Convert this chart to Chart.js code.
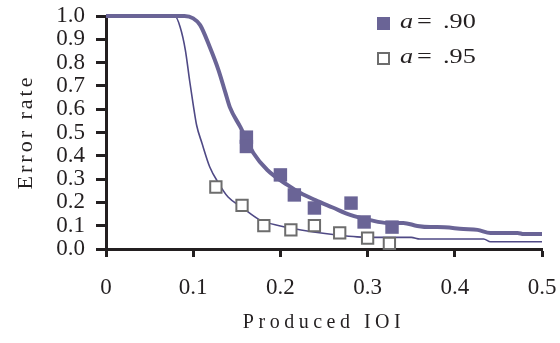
<!DOCTYPE html>
<html>
<head>
<meta charset="utf-8">
<script src="https://cdn.jsdelivr.net/npm/chart.js@4"></script>
<style>
  html, body { margin: 0; padding: 0; background: #fff; }
  #wrap { width: 560px; height: 343px; }
</style>
</head>
<body>
<div id="wrap"><canvas id="c" width="560" height="343"></canvas></div>
<script>
// model curves
const fitX90 = [0, 0.090, 0.100, 0.108, 0.119, 0.129, 0.137, 0.142, 0.154, 0.169, 0.185, 0.208, 0.223, 0.240, 0.260, 0.280, 0.303, 0.323, 0.341, 0.357, 0.372, 0.380, 0.410, 0.426, 0.441, 0.472, 0.479, 0.500];
const fitY90 = [1.0, 1.0, 0.99, 0.961, 0.867, 0.768, 0.67, 0.609, 0.524, 0.412, 0.339, 0.275, 0.24, 0.21, 0.178, 0.146, 0.124, 0.112, 0.112, 0.099, 0.094, 0.094, 0.086, 0.082, 0.069, 0.069, 0.064, 0.064];

const fitX95 = [0, 0.079, 0.085, 0.091, 0.096, 0.100, 0.104, 0.110, 0.119, 0.129, 0.140, 0.157, 0.177, 0.200, 0.211, 0.238, 0.265, 0.288, 0.315, 0.350, 0.360, 0.433, 0.441, 0.500];
const fitY95 = [1.0, 1.0, 0.953, 0.854, 0.72, 0.62, 0.53, 0.455, 0.352, 0.283, 0.223, 0.176, 0.124, 0.099, 0.09, 0.073, 0.06, 0.052, 0.05, 0.05, 0.043, 0.043, 0.031, 0.031];

// observed error rates
const obsX90 = [0.161, 0.161, 0.200, 0.216, 0.239, 0.281, 0.296, 0.328];
const obsY90 = [0.48, 0.44, 0.318, 0.232, 0.176, 0.197, 0.116, 0.094];

const obsX95 = [0.126, 0.156, 0.181, 0.212, 0.239, 0.268, 0.300, 0.325];
const obsY95 = [0.266, 0.187, 0.10, 0.082, 0.10, 0.069, 0.047, 0.024];

const xTicks = [0, 0.1, 0.2, 0.3, 0.4, 0.5];

const purple = '#6a6496';
const darkLine = '#4f4985';
const serif = '"Liberation Serif", "Times New Roman", Tinos, serif';

function pts(xs, ys){
  return xs.map((x, i) => ({x: x, y: ys[i]}));
}

// titles + legend drawn by hand (italic "a" etc.)
const extras = {
  id: 'extras',
  afterDraw(chart){
    const ctx = chart.ctx;
    ctx.save();
    ctx.fillStyle = '#231f20';
    ctx.textAlign = 'center';
    ctx.textBaseline = 'middle';

    ctx.font = '20px ' + serif;
    ctx.letterSpacing = '4.5px';
    ctx.fillText('Produced IOI', 324, 323);

    ctx.translate(26, 133);
    ctx.rotate(-Math.PI / 2);
    ctx.font = '22px ' + serif;
    ctx.letterSpacing = '3px';
    ctx.fillText('Error rate', 1, 0);
    ctx.restore();

    ctx.save();
    ctx.fillStyle = purple;
    ctx.fillRect(377, 17, 13, 13);
    ctx.fillStyle = '#fff';
    ctx.fillRect(378, 53, 11, 11);
    ctx.strokeStyle = '#6d6d6d';
    ctx.lineWidth = 2;
    ctx.strokeRect(378, 53, 11, 11);

    ctx.fillStyle = '#231f20';
    ctx.textAlign = 'left';
    ctx.textBaseline = 'alphabetic';
    const rows = [['.90', 28], ['.95', 63]];
    rows.forEach(r => {
      ctx.save();
      ctx.translate(0, r[1]);
      ctx.scale(1.25, 1);
      ctx.font = 'italic 21px ' + serif;
      ctx.fillText('a', 400 / 1.25, 0);
      ctx.font = '21px ' + serif;
      ctx.fillText('=', 417 / 1.25, 0);
      ctx.fillText(r[0], 443 / 1.25, 0);
      ctx.restore();
    });
    ctx.restore();
  }
};

new Chart(document.getElementById('c'), {
  type: 'scatter',
  data: {
    datasets: [
      {
        label: 'a = .90',
        data: pts(obsX90, obsY90),
        pointStyle: 'rect',
        pointRadius: 9.5,
        backgroundColor: purple,
        borderColor: purple,
        borderWidth: 0,
        order: 0,
        clip: false
      },
      {
        label: 'a = .95',
        data: pts(obsX95, obsY95),
        pointStyle: 'rect',
        pointRadius: 8,
        backgroundColor: '#fff',
        borderColor: '#6d6d6d',
        borderWidth: 2,
        order: 0,
        clip: false
      },
      {
        label: 'fit .90',
        type: 'line',
        data: pts(fitX90, fitY90),
        borderColor: purple,
        borderWidth: 4,
        pointRadius: 0,
        cubicInterpolationMode: 'monotone',
        fill: false,
        order: 1,
        clip: false
      },
      {
        label: 'fit .95',
        type: 'line',
        data: pts(fitX95, fitY95),
        borderColor: darkLine,
        borderWidth: 1.6,
        pointRadius: 0,
        cubicInterpolationMode: 'monotone',
        fill: false,
        order: 1,
        clip: false
      }
    ]
  },
  options: {
    responsive: false,
    animation: false,
    layout: { padding: { left: 0, right: 18, top: 16, bottom: 0 } },
    plugins: { legend: { display: false }, tooltip: { enabled: false } },
    scales: {
      x: {
        type: 'linear',
        min: 0, max: 0.5,
        afterFit(s){ s.height = 94; s.paddingLeft = 0; s.paddingRight = 0; },
        afterBuildTicks(s){ s.ticks = xTicks.map(v => ({value: v})); },
        ticks: {
          padding: 17,
          autoSkip: false,
          maxRotation: 0,
          color: '#231f20',
          font: { family: serif, size: 23 },
          callback: v => v === 0 ? '0' : v.toFixed(1)
        },
        grid: { drawOnChartArea: false, tickLength: 8, tickWidth: 3, tickColor: '#231f20' },
        border: { color: '#231f20', width: 3 }
      },
      y: {
        min: 0, max: 1,
        afterFit(s){ s.width = 106; s.paddingTop = 0; s.paddingBottom = 0; },
        ticks: {
          stepSize: 0.1,
          autoSkip: false,
          padding: 11,
          color: '#231f20',
          font: { family: serif, size: 23 },
          callback: v => v.toFixed(1)
        },
        grid: { drawOnChartArea: false, tickLength: 10, tickWidth: 3, tickColor: '#231f20' },
        border: { color: '#231f20', width: 3 }
      }
    }
  },
  plugins: [extras]
});
</script>
</body>
</html>
